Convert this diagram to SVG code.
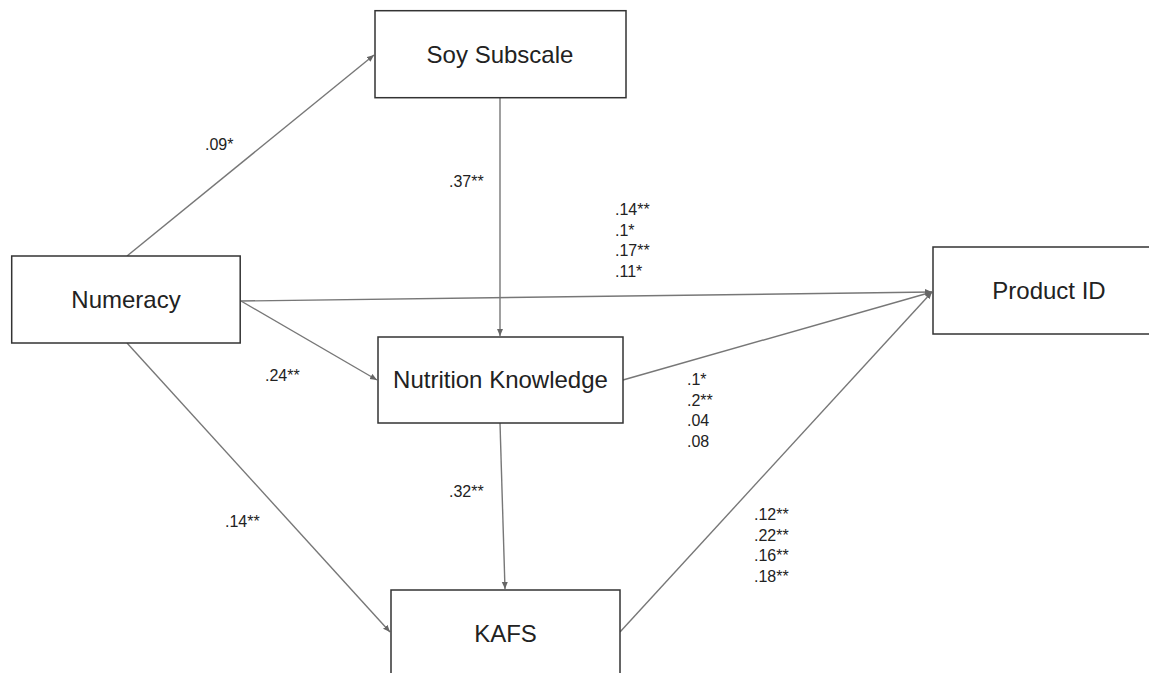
<svg xmlns="http://www.w3.org/2000/svg" width="1149" height="673" viewBox="0 0 1149 673">
<defs>
<style>
.box{fill:#ffffff;stroke:#333333;stroke-width:1.5}
.nt{font-family:"Liberation Sans",Arial,sans-serif;font-size:24px;fill:#222222;text-anchor:middle}
.lb{font-family:"Liberation Sans",Arial,sans-serif;font-size:16px;fill:#222222}
.ln{stroke:#777777;stroke-width:1.4;fill:none;marker-end:url(#ah)}
</style>
<marker id="ah" markerUnits="userSpaceOnUse" markerWidth="8" markerHeight="8" refX="7" refY="3" orient="auto">
<path d="M0,0 L7,3 L0,6 z" fill="#666666"/>
</marker>
</defs>
<rect width="1149" height="673" fill="#ffffff"/>
<g id="connectors">
<line class="ln" x1="127" y1="256" x2="374" y2="55"/>
<line class="ln" x1="241" y1="301" x2="932" y2="292"/>
<line class="ln" x1="241" y1="301" x2="377" y2="380"/>
<line class="ln" x1="127" y1="343" x2="390" y2="632"/>
<line class="ln" x1="500" y1="98" x2="500" y2="336"/>
<line class="ln" x1="500" y1="423" x2="505" y2="589"/>
<line class="ln" x1="623" y1="380" x2="932" y2="292"/>
<line class="ln" x1="620" y1="632" x2="932" y2="292"/>
</g>
<g id="labels">
<text class="lb" x="205" y="150">.09*</text>
<text class="lb" x="449" y="187">.37**</text>
<text class="lb" x="615" y="215">.14**</text>
<text class="lb" x="615" y="235.5">.1*</text>
<text class="lb" x="615" y="256">.17**</text>
<text class="lb" x="615" y="276.5">.11*</text>
<text class="lb" x="265" y="381">.24**</text>
<text class="lb" x="687" y="385">.1*</text>
<text class="lb" x="687" y="405.5">.2**</text>
<text class="lb" x="687" y="426">.04</text>
<text class="lb" x="687" y="446.5">.08</text>
<text class="lb" x="449" y="497">.32**</text>
<text class="lb" x="225" y="527">.14**</text>
<text class="lb" x="754" y="520">.12**</text>
<text class="lb" x="754" y="540.5">.22**</text>
<text class="lb" x="754" y="561">.16**</text>
<text class="lb" x="754" y="581.5">.18**</text>
</g>
<g id="soy">
<rect class="box" x="375" y="10.7" width="251" height="87"/>
<text class="nt" x="500" y="63">Soy Subscale</text>
</g>
<g id="numeracy">
<rect class="box" x="11.7" y="256" width="228.5" height="87"/>
<text class="nt" x="126" y="308">Numeracy</text>
</g>
<g id="nutrition">
<rect class="box" x="378" y="337" width="245" height="86"/>
<text class="nt" x="500.5" y="388">Nutrition Knowledge</text>
</g>
<g id="kafs">
<rect class="box" x="391" y="590" width="229" height="88"/>
<text class="nt" x="505.5" y="642">KAFS</text>
</g>
<g id="product">
<rect class="box" x="933" y="247" width="232" height="87"/>
<text class="nt" x="1049" y="299">Product ID</text>
</g>
</svg>
